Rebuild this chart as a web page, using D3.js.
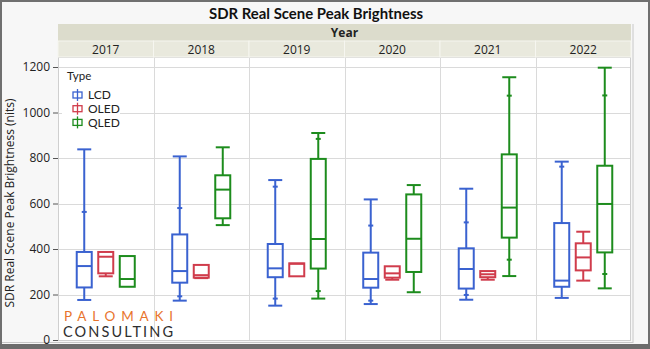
<!DOCTYPE html>
<html><head><meta charset="utf-8">
<script src="https://cdn.jsdelivr.net/npm/d3@7"></script>
<style>body{margin:0;background:#fff}svg{display:block}</style>
</head><body><svg id="chart" width="650" height="349"></svg>
<script>
const years = ["2017", "2018", "2019", "2020", "2021", "2022"];
const types = ["LCD", "OLED", "QLED"];
// per-year box summaries: [min, q1, median, q3, max]
const lcdStats = [[176, 231, 325, 387, 838], [173, 252, 303, 464, 807], [151, 276, 315, 422, 703],
                  [158, 230, 268, 384, 618], [177, 226, 312, 403, 665], [185, 234, 261, 514, 784]];
const oledStats = [[280, 293, 366, 387, 387], [272, 274, 285, 330, 330], [280, 280, 335, 337, 337],
                   [265, 274, 293, 324, 324], [265, 276, 289, 303, 303], [261, 306, 363, 425, 476]];
const qledStats = [[234, 234, 268, 369, 369], [505, 535, 661, 724, 847], [182, 314, 444, 796, 910],
                   [210, 299, 445, 640, 681], [281, 450, 582, 816, 1155], [227, 385, 598, 766, 1197]];
// small dash marks on the whiskers
const lcdMarks = [[563], [192, 580], [182, 674], [173, 503], [198, 517], [762]];
const oledMarks = [[], [], [], [], [], []];
const qledMarks = [[], [], [215, 884], [], [353, 1074], [290, 1075]];
const yTicks = [0, 200, 400, 600, 800, 1000, 1200];
const typeColors = ["#3a62d0", "#d03c4c", "#1d8c1d"];

const statsByType = [lcdStats, oledStats, qledStats];
const marksByType = [lcdMarks, oledMarks, qledMarks];

const svg = d3.select("#chart");
const W = 650, H = 349;
const plot = {left: 58, right: 631, top: 57, bottom: 340};
const font = "'Open Sans', 'Noto Sans', sans-serif";
const font2 = "Lato, 'Open Sans', sans-serif";

// frame
svg.append("rect").attr("width", W).attr("height", H).attr("fill", "#f7f7f7");
svg.append("rect").attr("x", 1).attr("y", 1).attr("width", W - 2).attr("height", H - 2)
  .attr("fill", "none").attr("stroke", "#707070").attr("stroke-width", 2);
svg.append("rect").attr("x", 0).attr("y", 344).attr("width", W).attr("height", 5).attr("fill", "#6c6c6c");
svg.append("line").attr("x1", 2).attr("x2", 633).attr("y1", 342.5).attr("y2", 342.5)
  .attr("stroke", "#c8c8c8").attr("stroke-width", 1);
svg.append("line").attr("x1", 633).attr("x2", 633).attr("y1", 24).attr("y2", 343)
  .attr("stroke", "#c8c8c8").attr("stroke-width", 1);

const x = d3.scaleBand().domain(years).range([plot.left, plot.right]);
const xi = d3.scalePoint().domain(types).range([0, x.bandwidth()]).padding(1.22);
const y = d3.scaleLinear().domain([0, 1200]).range([340, 67]);

// plot area
svg.append("rect").attr("x", plot.left).attr("y", plot.top)
  .attr("width", plot.right - plot.left).attr("height", plot.bottom - plot.top).attr("fill", "#fff");

// grid
svg.append("g").selectAll("line").data(yTicks).join("line")
  .attr("x1", plot.left).attr("x2", plot.right)
  .attr("y1", d => Math.round(y(d)) + 0.5).attr("y2", d => Math.round(y(d)) + 0.5)
  .attr("stroke", "#dadada").attr("stroke-width", 1);
svg.append("g").selectAll("line").data(years.slice(1)).join("line")
  .attr("x1", d => Math.round(x(d)) + 0.5).attr("x2", d => Math.round(x(d)) + 0.5)
  .attr("y1", plot.top).attr("y2", plot.bottom)
  .attr("stroke", "#dadada").attr("stroke-width", 1);
svg.append("rect").attr("x", plot.left + 0.5).attr("y", plot.top + 0.5)
  .attr("width", plot.right - plot.left - 1).attr("height", plot.bottom - plot.top)
  .attr("fill", "none").attr("stroke", "#cfcfcf");

// legend backing
svg.append("rect").attr("x", 62).attr("y", 69).attr("width", 58).attr("height", 60).attr("fill", "#fff");

// boxes
const boxW = 15, capW = 14, sw = 2;
types.forEach((t, ti) => {
  const col = typeColors[ti];
  const g = svg.append("g").attr("stroke", col).attr("stroke-width", sw).attr("fill", "none");
  years.forEach((yr, yi) => {
    const [mn, q1, md, q3, mx] = statsByType[ti][yi];
    const cx = x(yr) + xi(t);
    if (mx > q3) {
      g.append("line").attr("x1", cx).attr("x2", cx).attr("y1", y(q3)).attr("y2", y(mx));
      g.append("line").attr("x1", cx - capW / 2).attr("x2", cx + capW / 2).attr("y1", y(mx)).attr("y2", y(mx));
    }
    if (mn < q1) {
      g.append("line").attr("x1", cx).attr("x2", cx).attr("y1", y(q1)).attr("y2", y(mn));
      g.append("line").attr("x1", cx - capW / 2).attr("x2", cx + capW / 2).attr("y1", y(mn)).attr("y2", y(mn));
    }
    g.append("rect").attr("x", cx - boxW / 2).attr("y", y(q3))
      .attr("width", boxW).attr("height", y(q1) - y(q3));
    g.append("line").attr("x1", cx - boxW / 2).attr("x2", cx + boxW / 2).attr("y1", y(md)).attr("y2", y(md));
    marksByType[ti][yi].forEach(v => {
      g.append("line").attr("x1", cx - 2.5).attr("x2", cx + 2.5).attr("y1", y(v)).attr("y2", y(v));
    });
  });
});

// legend
svg.append("text").attr("x", 67).attr("y", 80).attr("font-family", font2).attr("font-size", 11.5)
  .attr("fill", "#222").text("Type");
types.forEach((t, i) => {
  const cy = 95 + i * 13.7;
  const g = svg.append("g").attr("stroke", typeColors[i]).attr("stroke-width", 1.3).attr("fill", "none");
  g.append("rect").attr("x", 73).attr("y", cy - 3).attr("width", 9).attr("height", 6);
  g.append("line").attr("x1", 77.5).attr("x2", 77.5).attr("y1", cy - 6).attr("y2", cy + 6);
  svg.append("text").attr("x", 88).attr("y", cy + 4.3).attr("font-family", font2).attr("font-size", 12)
    .attr("fill", "#222").text(t);
});

// logo
svg.append("text").attr("x", 64).attr("y", 320.5).attr("font-family", font2).attr("font-size", 13.5)
  .attr("fill", "#e8742c").attr("textLength", 109).attr("lengthAdjust", "spacing").text("PALOMAKI");
svg.append("text").attr("x", 63).attr("y", 336.5).attr("font-family", font2).attr("font-size", 14.5)
  .attr("fill", "#2e2e2e").attr("textLength", 110).attr("lengthAdjust", "spacing").text("CONSULTING");

// header strips
svg.append("rect").attr("x", plot.left).attr("y", 24).attr("width", plot.right - plot.left).attr("height", 17)
  .attr("fill", "#dcdccc");
svg.append("text").attr("x", (plot.left + plot.right) / 2).attr("y", 37).attr("text-anchor", "middle")
  .attr("font-family", font).attr("font-size", 12).attr("font-weight", 700).attr("fill", "#222").text("Year");
svg.append("g").selectAll("rect").data(years).join("rect")
  .attr("x", d => x(d)).attr("y", 41).attr("width", x.bandwidth()).attr("height", 16)
  .attr("fill", "#e9e9dd").attr("stroke", "#f6f6f0").attr("stroke-width", 1);
svg.append("g").selectAll("text").data(years).join("text")
  .attr("x", d => x(d) + x.bandwidth() / 2).attr("y", 54).attr("text-anchor", "middle")
  .attr("font-family", font).attr("font-size", 12).attr("fill", "#222").text(d => d);

// y axis
const yAxis = d3.axisLeft(y).tickValues(yTicks).tickFormat(d3.format("d")).tickSize(5).tickPadding(3);
const ya = svg.append("g").attr("transform", `translate(${plot.left},0)`).call(yAxis);
ya.select(".domain").remove();
ya.selectAll(".tick line").attr("stroke", "#555");
ya.selectAll(".tick text").attr("font-family", font).attr("font-size", 12).attr("fill", "#222");

svg.append("text").attr("transform", "translate(14,203) rotate(-90)").attr("text-anchor", "middle")
  .attr("font-family", font).attr("font-size", 12).attr("fill", "#222")
  .text("SDR Real Scene Peak Brightness (nits)");

// title
const title = svg.append("text").attr("x", 316).attr("y", 19).attr("text-anchor", "middle")
  .attr("font-family", font2).attr("font-size", 15.5).attr("font-weight", 700).attr("fill", "#111")
  .text("SDR Real Scene Peak Brightness");
if (title.node().getComputedTextLength() > 214) {
  title.attr("textLength", 214).attr("lengthAdjust", "spacingAndGlyphs");
}
</script></body></html>
